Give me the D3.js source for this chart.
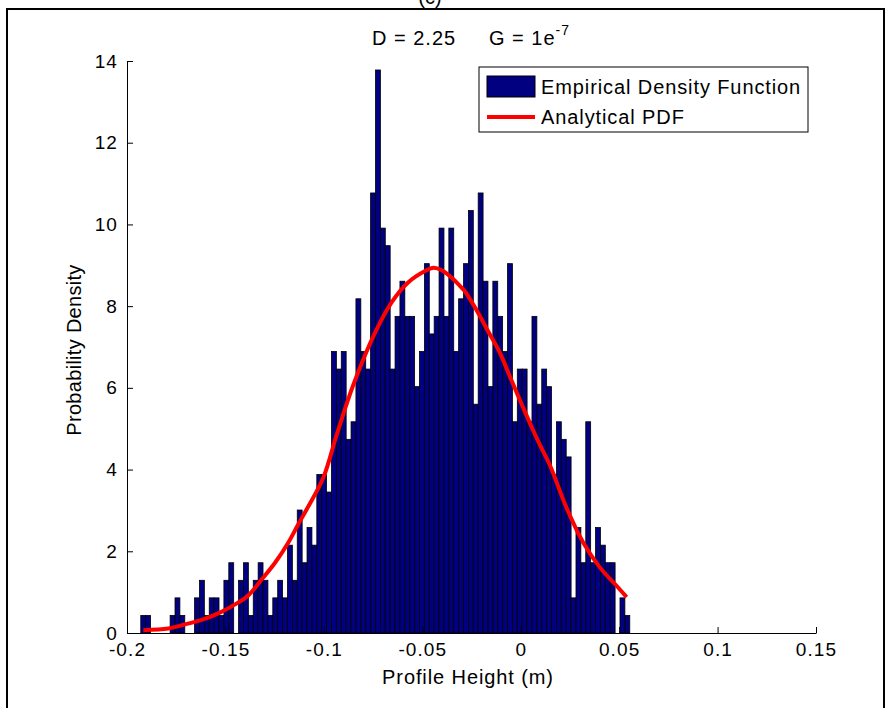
<!DOCTYPE html>
<html>
<head>
<meta charset="utf-8">
<script src="https://cdn.jsdelivr.net/npm/d3@7"></script>
<style>
  html, body { margin: 0; padding: 0; background: #fff; }
  svg { display: block; }
  text { font-family: "Liberation Sans", Arial, sans-serif; fill: #000; }
</style>
</head>
<body>
<svg id="chart" width="891" height="708"></svg>
<script>
// ---------------- data ----------------
const titleMain = "D = 2.25     G = 1e";
const titleSup = "-7";
const xLabel = "Profile Height (m)";
const yLabel = "Probability Density";
const legendLabels = ["Empirical Density Function", "Analytical PDF"];

// histogram: 100 equal bins between these edges (m)
const binEdges = [-0.1930, 0.0554];
// empirical density of each bin, left to right
const density = [
  0.43, 0.43, 0, 0, 0, 0, 0.43, 0.86, 0.43, 0,
  0, 0.86, 1.29, 0.43, 0.86, 0.86, 0.43, 1.29, 1.72, 0,
  1.29, 1.72, 0.43, 1.29, 1.72, 1.29, 0.43, 0.86, 1.29, 0.86,
  2.15, 1.29, 3.01, 1.72, 2.58, 2.15, 3.88, 3.88, 3.45, 6.89,
  6.46, 6.89, 4.74, 5.17, 8.18, 6.89, 6.46, 10.77, 13.78, 9.91,
  9.48, 6.46, 7.75, 8.61, 7.75, 7.75, 6.03, 6.89, 9.04, 7.32,
  7.75, 9.91, 7.75, 9.91, 6.89, 8.18, 9.04, 10.34, 5.60, 10.77,
  8.61, 6.03, 8.61, 7.75, 6.89, 9.04, 5.17, 6.46, 6.46, 5.17,
  7.75, 5.60, 6.46, 6.03, 3.88, 5.17, 4.74, 4.31, 0.86, 2.58,
  1.72, 5.17, 1.72, 2.58, 2.15, 1.72, 1.72, 0, 0.86, 0.43
];

// analytical PDF curve
const pdfX = [-0.1917, -0.1790, -0.1705, -0.1621, -0.1528, -0.1451, -0.1384, -0.1316,
  -0.1248, -0.1181, -0.1130, -0.1087, -0.1003, -0.0935, -0.0852, -0.0740,
  -0.0655, -0.0572, -0.0486, -0.0444, -0.0401, -0.0342, -0.0308, -0.0283, -0.0224,
  -0.0165, -0.0105, -0.0055, -0.0020, 0.0005, 0.0064, 0.0098, 0.0149, 0.0234,
  0.0318, 0.0403, 0.0488, 0.0538];
const pdfY = [0.07, 0.11, 0.21, 0.32, 0.50, 0.70, 0.92, 1.31,
  1.72, 2.21, 2.66, 3.03, 3.80, 4.85, 6.05, 7.35,
  8.10, 8.58, 8.86, 8.94, 8.88, 8.66, 8.49, 8.36, 7.90,
  7.38, 6.85, 6.28, 5.88, 5.60, 4.95, 4.60, 4.10, 3.05,
  2.21, 1.60, 1.15, 0.88];

const xTicks = [-0.2, -0.15, -0.1, -0.05, 0, 0.05, 0.1, 0.15];
const xTickLabels = ["-0.2", "-0.15", "-0.1", "-0.05", "0", "0.05", "0.1", "0.15"];
const yTicks = [0, 2, 4, 6, 8, 10, 12, 14];

// ---------------- drawing ----------------
const svg = d3.select("#chart");
const x = d3.scaleLinear().domain([-0.2, 0.15]).range([127, 816]);
const y = d3.scaleLinear().domain([0, 14]).range([633, 61]);

// outer frame
svg.append("rect").attr("x", 7).attr("y", 9).attr("width", 877).attr("height", 740)
  .attr("fill", "none").attr("stroke", "#000").attr("stroke-width", 2);
svg.append("text").attr("x", 430).attr("y", 4).attr("text-anchor", "middle")
  .style("font-size", "20px").text("(c)");

// bars
const binW = (binEdges[1] - binEdges[0]) / density.length;
svg.append("g").selectAll("rect").data(density).join("rect")
  .attr("x", (d, i) => x(binEdges[0] + i * binW))
  .attr("width", (d, i) => x(binEdges[0] + (i + 1) * binW) - x(binEdges[0] + i * binW))
  .attr("y", d => y(d))
  .attr("height", d => y(0) - y(d))
  .attr("fill", "#000080")
  .attr("stroke", "#000")
  .attr("stroke-width", 0.8);

// pdf line
const line = d3.line().x(d => x(d[0])).y(d => y(d[1])).curve(d3.curveCatmullRom);
svg.append("path").datum(pdfX.map((v, i) => [v, pdfY[i]]))
  .attr("d", line).attr("fill", "none").attr("stroke", "#ff0000")
  .attr("stroke-width", 4).attr("stroke-linejoin", "round");

// axes
const xAxis = d3.axisBottom(x).tickValues(xTicks).tickSizeInner(-6).tickSizeOuter(0)
  .tickPadding(12).tickFormat((d, i) => xTickLabels[i]);
const gx = svg.append("g").attr("transform", `translate(0,${y(0)})`).call(xAxis);
const yAxis = d3.axisLeft(y).tickValues(yTicks).tickSizeInner(-6).tickSizeOuter(0)
  .tickPadding(9).tickFormat(d3.format("d"));
const gy = svg.append("g").attr("transform", `translate(${x(-0.2)},0)`).call(yAxis);
[gx, gy].forEach(g => {
  g.select(".domain").attr("stroke", "#000").attr("stroke-width", 1);
  g.selectAll(".tick line").attr("stroke", "#000");
  g.selectAll("text").style("font-size", "19px").style("letter-spacing", "1.1px")
    .style("font-family", "'Liberation Sans', Arial, sans-serif").attr("fill", "#000");
});
gx.selectAll("text").attr("dy", "0.6em");

// axis labels
svg.append("text").attr("x", 468).attr("y", 684).attr("text-anchor", "middle")
  .style("font-size", "20px").style("letter-spacing", "0.9px").text(xLabel);
svg.append("text").attr("transform", "translate(81,350) rotate(-90)")
  .attr("text-anchor", "middle").style("font-size", "20px").style("letter-spacing", "0.3px")
  .text(yLabel);

// title
const title = svg.append("text").attr("x", 471).attr("y", 45).attr("text-anchor", "middle")
  .style("font-size", "20px").style("letter-spacing", "1px")
  .attr("xml:space", "preserve").style("white-space", "pre");
title.append("tspan").text(titleMain);
title.append("tspan").attr("dy", -10).style("font-size", "14px").text(titleSup);

// legend
const lg = svg.append("g");
lg.append("rect").attr("x", 479).attr("y", 67).attr("width", 329).attr("height", 65)
  .attr("fill", "#fff").attr("stroke", "#000").attr("stroke-width", 1);
lg.append("rect").attr("x", 487).attr("y", 76).attr("width", 48).attr("height", 21)
  .attr("fill", "#000080").attr("stroke", "#000").attr("stroke-width", 1);
lg.append("line").attr("x1", 487).attr("x2", 535).attr("y1", 117).attr("y2", 117)
  .attr("stroke", "#ff0000").attr("stroke-width", 4);
lg.selectAll("text.lt").data(legendLabels).join("text").attr("class", "lt")
  .attr("x", 541).attr("y", (d, i) => i === 0 ? 94 : 124)
  .style("font-size", "20px").style("letter-spacing", "0.9px").text(d => d);
</script>
</body>
</html>
